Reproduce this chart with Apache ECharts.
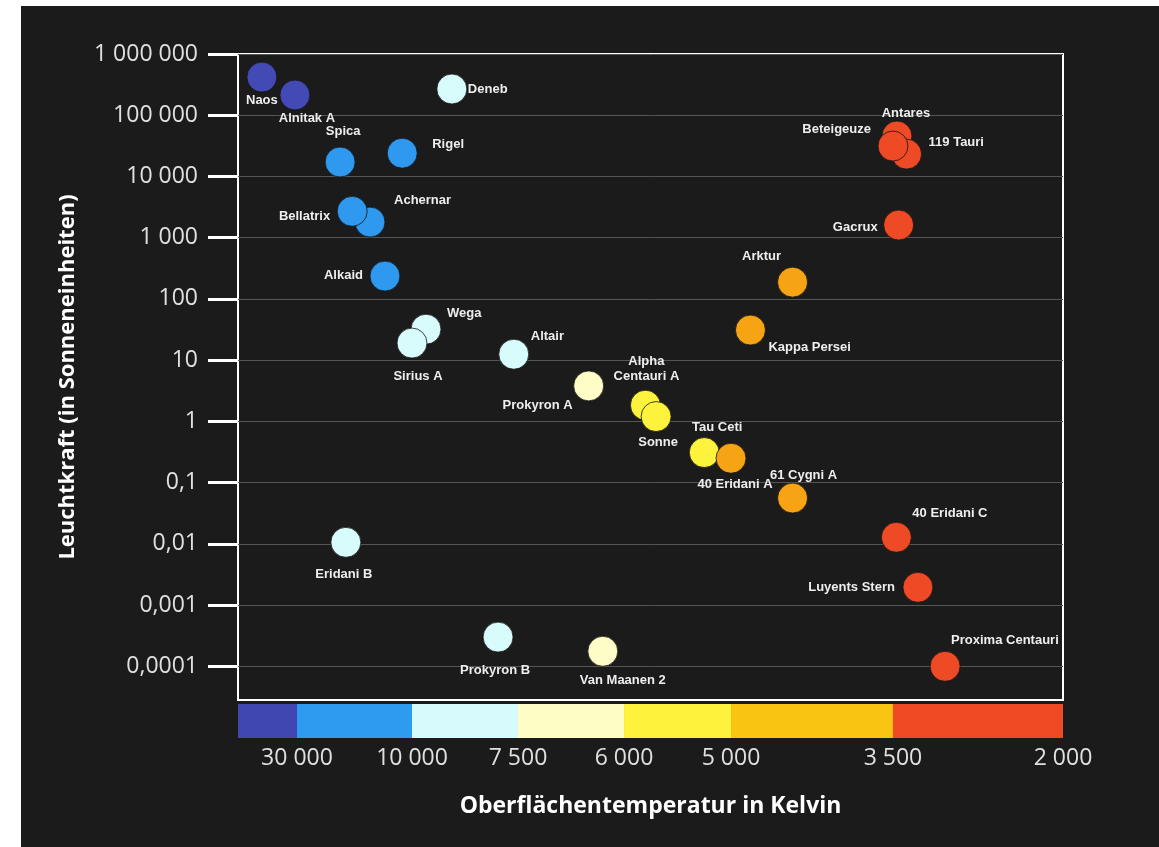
<!DOCTYPE html>
<html>
<head>
<meta charset="utf-8">
<title>Hertzsprung-Russell-Diagramm</title>
<script src="https://cdn.jsdelivr.net/npm/echarts@6/dist/echarts.min.js"></script>
<style>
html, body { margin: 0; padding: 0; background: #fff; }
#hrd { position: absolute; left: 21px; top: 6px; width: 1138px; height: 841px; background: #1b1b1b; }
</style>
</head>
<body>
<div id="hrd"></div>
<script>
// Sterne: Name, Oberflächentemperatur (K), Leuchtkraft (Sonne = 1), Spektralklasse
var stars = ['Naos', 'Alnitak A', 'Deneb', 'Spica', 'Rigel', 'Achernar', 'Bellatrix', 'Alkaid',
    'Wega', 'Sirius A', 'Altair', 'Prokyron A', 'Alpha\nCentauri A', 'Sonne', 'Tau Ceti', '40 Eridani A',
    '61 Cygni A', 'Arktur', 'Kappa Persei', 'Antares', '119 Tauri', 'Beteigeuze', 'Gacrux',
    '40 Eridani C', 'Luyents Stern', 'Proxima Centauri', 'Eridani B', 'Prokyron B', 'Van Maanen 2'];
var temps = [41900, 30700, 9060, 22500, 11700, 17300, 20400, 14700,
    9670, 10000, 7600, 6500, 5800, 5700, 5250, 5000,
    4430, 4430, 4820, 3465, 3380, 3500, 3450,
    3470, 3280, 3040, 21500, 7970, 6300];
var lums = [420000, 214000, 268000, 17200, 24000, 1800, 2700, 236,
    32, 19, 12.5, 3.8, 1.84, 1.2, 0.31, 0.25,
    0.056, 188, 31, 45700, 23200, 31400, 1610,
    0.0128, 0.00195, 0.0001, 0.0106, 0.0003, 0.000176];
var classes = ['O', 'O', 'A', 'B', 'B', 'B', 'B', 'B',
    'A', 'A', 'A', 'F', 'G', 'G', 'G', 'K',
    'K', 'K', 'K', 'M', 'M', 'M', 'M',
    'M', 'M', 'M', 'A', 'A', 'F'];

// Temperaturskala (stückweise linear, Spektralklassen O B A F G K M)
var classNames = ['O', 'B', 'A', 'F', 'G', 'K', 'M'];
var tempBreaks = [50000, 30000, 10000, 7500, 6000, 5000, 3500, 2000];
var breakPos = [0, 7.15, 21.09, 33.94, 46.79, 59.76, 79.39, 100];
var tempTicks = [30000, 10000, 7500, 6000, 5000, 3500, 2000];
var lumExp = [-4, -3, -2, -1, 0, 1, 2, 3, 4, 5, 6];

var starColors = { O: '#4349b5', B: '#2e99ee', A: '#d8fbfc', F: '#fefdc8', G: '#fdf23c', K: '#f6a414', M: '#ef4a26' };
var barColors = { O: '#4147b0', B: '#2e9af0', A: '#d7fbfc', F: '#fefdc5', G: '#fef23c', K: '#f9c512', M: '#f04a25' };

// Beschriftung: [align, dx, dy] relativ zur Kreismitte
var labelPlace = {
    'Naos': ['center', 0, 23], 'Alnitak A': ['center', 12, 23], 'Deneb': ['left', 16, 0],
    'Spica': ['center', 3, -31], 'Rigel': ['left', 30, -9], 'Bellatrix': ['right', -22, 5],
    'Achernar': ['left', 24, -22], 'Alkaid': ['right', -22, -1], 'Wega': ['left', 21, -16],
    'Sirius A': ['center', 6, 33], 'Altair': ['left', 17, -18], 'Prokyron A': ['right', -16, 20],
    'Alpha\nCentauri A': ['center', 1, -36], 'Sonne': ['center', 2, 26], 'Tau Ceti': ['center', 13, -25],
    '40 Eridani A': ['center', 4, 26], '61 Cygni A': ['center', 11, -23], 'Arktur': ['center', -31, -26],
    'Kappa Persei': ['left', 18, 17], 'Antares': ['center', 9, -23], 'Beteigeuze': ['right', -22, -17],
    '119 Tauri': ['left', 22, -12], 'Gacrux': ['right', -21, 2], '40 Eridani C': ['left', 16, -24],
    'Luyents Stern': ['right', -23, 0], 'Proxima Centauri': ['left', 6, -26], 'Eridani B': ['center', -2, 32],
    'Prokyron B': ['center', -3, 33], 'Van Maanen 2': ['center', 20, 29]
};

function tempToPos(t) {
    for (var i = 0; i < tempBreaks.length - 1; i++) {
        if (t <= tempBreaks[i] && t >= tempBreaks[i + 1]) {
            var f = (tempBreaks[i] - t) / (tempBreaks[i] - tempBreaks[i + 1]);
            return breakPos[i] + f * (breakPos[i + 1] - breakPos[i]);
        }
    }
    return t > tempBreaks[0] ? 0 : 100;
}

function groupDigits(n) {
    return String(n).replace(/\B(?=(\d{3})+(?!\d))/g, ' ');
}

function fmtLum(v) {
    var e = Math.round(v);
    if (e >= 0) return groupDigits(Math.pow(10, e));
    return '0,' + new Array(-e).join('0') + '1';
}

var tickPos = tempTicks.map(tempToPos);
function fmtTemp(v) {
    var best = 0;
    for (var i = 0; i < tickPos.length; i++) {
        if (Math.abs(tickPos[i] - v) < Math.abs(tickPos[best] - v)) best = i;
    }
    return groupDigits(tempTicks[best]);
}

var segments = [];
for (var i = 0; i < classNames.length; i++) {
    segments.push([breakPos[i], breakPos[i + 1], i]);
}

var starData = stars.map(function (name, i) {
    var lp = labelPlace[name];
    return {
        name: name,
        value: [tempToPos(temps[i]), Math.log10(lums[i])],
        itemStyle: { color: starColors[classes[i]] },
        label: { align: lp[0], offset: [lp[1], lp[2]] }
    };
});

var axisFont = 'Open Sans';
var myChart = echarts.init(document.getElementById('hrd'));

var option = {
    animation: false,
    grid: [
        { left: 217, top: 48, width: 825, height: 646, show: true, borderColor: '#fff', borderWidth: 2 },
        { left: 217, top: 698, width: 825, height: 34 }
    ],
    xAxis: [
        { gridIndex: 0, type: 'value', min: 0, max: 100, show: false },
        {
            gridIndex: 1, type: 'value', min: 0, max: 100,
            name: 'Oberflächentemperatur in Kelvin',
            nameLocation: 'middle', nameGap: 57,
            nameTextStyle: { color: '#fff', fontSize: 23, fontWeight: 'bold', fontFamily: axisFont },
            axisLine: { show: false },
            axisTick: { show: false },
            splitLine: { show: false },
            axisLabel: {
                customValues: tickPos, formatter: fmtTemp, margin: 9,
                color: '#e0e0e0', fontSize: 23, fontFamily: axisFont
            }
        }
    ],
    yAxis: [
        {
            gridIndex: 0, type: 'value', min: -4.55, max: 6,
            name: 'Leuchtkraft (in Sonneneinheiten)',
            nameLocation: 'middle', nameGap: 159, nameRotate: 90,
            nameTextStyle: { color: '#fff', fontSize: 22, fontWeight: 'bold', fontFamily: axisFont },
            axisLine: { show: false },
            axisTick: { show: true, customValues: lumExp, length: 30, lineStyle: { color: '#fff', width: 3 } },
            axisLabel: {
                customValues: lumExp, formatter: fmtLum, margin: 40,
                color: '#e0e0e0', fontSize: 23, fontFamily: axisFont
            },
            splitLine: { show: true, lineStyle: { color: '#555555', width: 1 } }
        },
        { gridIndex: 1, type: 'value', min: 0, max: 1, show: false }
    ],
    series: [
        {
            type: 'custom',
            xAxisIndex: 1,
            yAxisIndex: 1,
            silent: true,
            encode: { x: [0, 1] },
            data: segments,
            renderItem: function (params, api) {
                var s = api.coord([api.value(0), 1]);
                var e = api.coord([api.value(1), 0]);
                return {
                    type: 'rect',
                    shape: { x: s[0], y: s[1], width: e[0] - s[0], height: e[1] - s[1] },
                    style: { fill: barColors[classNames[api.value(2)]] }
                };
            }
        },
        {
            type: 'scatter',
            xAxisIndex: 0,
            yAxisIndex: 0,
            symbolSize: 30,
            silent: true,
            itemStyle: { borderColor: 'rgba(20,20,20,0.8)', borderWidth: 1, opacity: 1 },
            label: {
                show: true, position: 'inside', formatter: '{b}',
                color: '#eeeeee', fontSize: 13, fontWeight: 'bold', fontFamily: 'Liberation Sans',
                verticalAlign: 'middle', lineHeight: 15
            },
            emphasis: { disabled: true },
            data: starData
        }
    ]
};
myChart.setOption(option);
</script>
</body>
</html>
